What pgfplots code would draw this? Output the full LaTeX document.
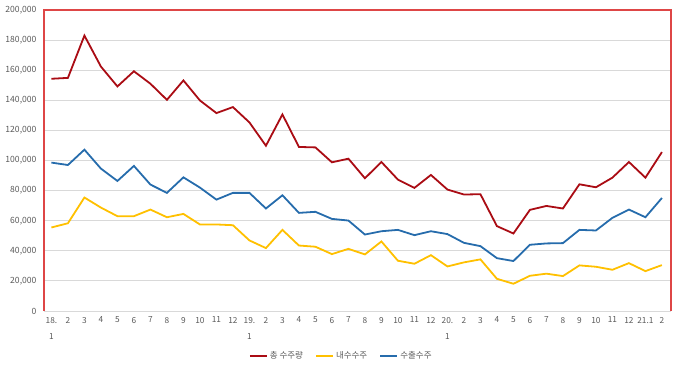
\documentclass[border=0pt]{standalone}
\usepackage{pgfplots}
\pgfplotsset{compat=1.18}
\usepackage{pgfplotstable}
\usepackage{fontspec}
\setmainfont{Noto Sans CJK KR}
\definecolor{totc}{RGB}{170,12,20}
\definecolor{domc}{RGB}{255,192,0}
\definecolor{expc}{RGB}{38,108,172}
\definecolor{redframe}{RGB}{222,70,70}
\definecolor{gridc}{RGB}{217,217,217}
\definecolor{labc}{RGB}{89,89,89}
\pgfplotstableread{
x y
0 154300
1 154900
2 183000
3 162400
4 149200
5 159300
6 151000
7 140300
8 153200
9 139900
10 131500
11 135500
12 125300
13 109800
14 130600
15 109000
16 108700
17 98800
18 101200
19 88200
20 99000
21 87300
22 81800
23 90400
24 80700
25 77400
26 77600
27 56400
28 51500
29 67200
30 69800
31 68100
32 84200
33 82200
34 88600
35 99000
36 88600
37 105600
}\tot
\pgfplotstableread{
x y
0 55500
1 58300
2 75400
3 68700
4 63000
5 63000
6 67400
7 62300
8 64500
9 57500
10 57500
11 57000
12 46900
13 41800
14 53900
15 43500
16 42700
17 37800
18 41300
19 37600
20 46200
21 33400
22 31400
23 37100
24 29600
25 32300
26 34300
27 21400
28 18100
29 23400
30 24800
31 23200
32 30300
33 29400
34 27400
35 31800
36 26500
37 30500
}\dom
\pgfplotstableread{
x y
0 98600
1 97000
2 107200
3 94600
4 86400
5 96400
6 84000
7 78500
8 88800
9 82000
10 74000
11 78500
12 78500
13 68100
14 76900
15 65200
16 65900
17 61200
18 60100
19 50800
20 53000
21 53900
22 50400
23 53000
24 51100
25 45300
26 43100
27 35100
28 33200
29 44000
30 44900
31 45100
32 53900
33 53500
34 61900
35 67400
36 62300
37 75100
}\exq
\begin{document}
\begin{tikzpicture}[x=1pt,y=1pt]
\useasboundingbox (0,0) rectangle (680,369);
\begin{axis}[
  at={(44pt,58pt)}, anchor=south west,
  scale only axis, width=627pt, height=301pt,
  xmin=-0.45, xmax=37.55, ymin=0, ymax=200000,
  ytick={0,20000,...,200000},
  scaled y ticks=false,
  /pgf/number format/.cd, fixed, 1000 sep={,}, assume math mode=true, /pgfplots/.cd,
  xtick={0,...,37},
  xticklabels={{18.\\1},2,3,4,5,6,7,8,9,10,11,12,{19.\\1},2,3,4,5,6,7,8,9,10,11,12,{20.\\1},2,3,4,5,6,7,8,9,10,11,12,21.1,2},
  xticklabel style={align=center, font=\fontsize{8.3}{16.5}\selectfont, text=labc, anchor=north, yshift=-2.5pt},
  yticklabel style={font=\fontsize{8.6}{10}\selectfont, text=labc, xshift=-4pt},
  major tick length=0pt,
  ymajorgrids, grid style={gridc, line width=0.8pt},
  axis line style={draw=none},
  legend columns=3,
  legend style={at={(axis description cs:0.474,-0.1495)}, anchor=center, draw=none, fill=none,
    font=\fontsize{8.5}{10}\selectfont, text=labc,
    /tikz/every even column/.append style={column sep=10pt}},
  legend image code/.code={\draw[line width=2pt] (0pt,0pt) -- (17pt,0pt);},
  clip=false,
]
\draw[gridc, line width=0.8pt] (rel axis cs:0,0) -- (rel axis cs:1,0);
\draw[color=redframe, line width=1.2pt] (rel axis cs:0,0) -- (rel axis cs:0,1) -- (rel axis cs:1,1) -- (rel axis cs:1,0);
\addplot[totc, line width=1.8pt, no marks] table[x=x,y=y] {\tot};
\addlegendentry{총 수주량}
\addplot[domc, line width=1.8pt, no marks] table[x=x,y=y] {\dom};
\addlegendentry{내수수주}
\addplot[expc, line width=1.8pt, no marks] table[x=x,y=y] {\exq};
\addlegendentry{수출수주}
\end{axis}
\end{tikzpicture}
\end{document}
